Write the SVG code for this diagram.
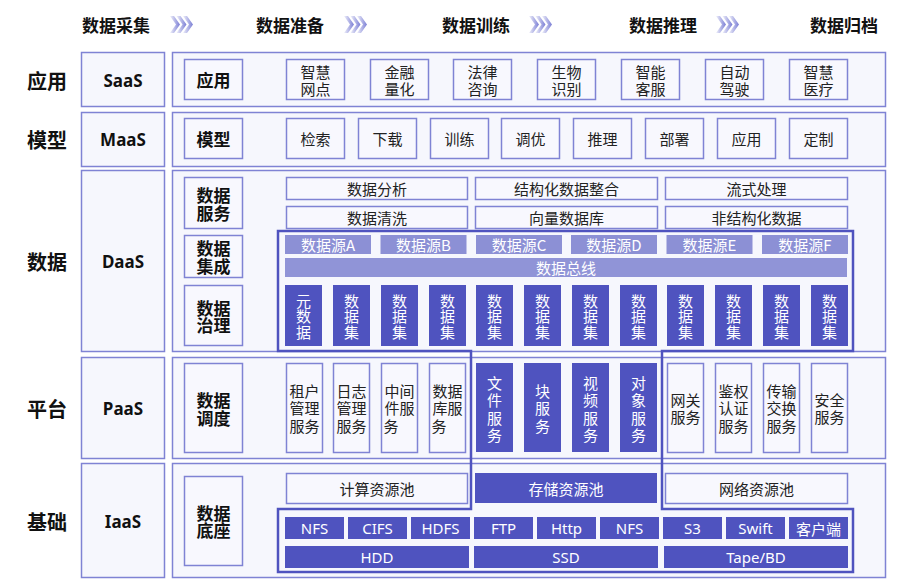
<svg xmlns="http://www.w3.org/2000/svg" xmlns:xlink="http://www.w3.org/1999/xlink" width="919" height="588" viewBox="0 0 919 588">
<style>
.bg{fill:#ffffff}
.layer{fill:#f6f7fd;stroke:#7f83d4;stroke-width:1.5}
.ob{fill:#f8f8fe;stroke:#7f83d4;stroke-width:1.5}
.fb{fill:#4f53bf}
.lb{fill:#8c90d5}
.bus{fill:#9094d7}
.t{font-family:"Noto Sans CJK SC","Noto Sans",sans-serif;font-size:15px;fill:#222;text-anchor:middle;dominant-baseline:central}
.w{fill:#ffffff}
.b{font-weight:bold;font-size:17px;fill:#111}
.hd{font-weight:bold;font-size:17px;fill:#111}
.side{font-weight:bold;font-size:20px;fill:#111}
.lay{font-weight:bold;font-size:17px;fill:#111;font-family:"Noto Sans","Noto Sans CJK SC",sans-serif}
.lat{font-family:"Noto Sans","Noto Sans CJK SC",sans-serif}
.frame{fill:none;stroke:#4f53bf;stroke-width:2.5}
</style>
<defs>
<linearGradient id="cg" x1="0" y1="0" x2="1" y2="0">
<stop offset="0" stop-color="#6b6fd0" stop-opacity="0.1"/>
<stop offset="1" stop-color="#6b6fd0" stop-opacity="0.9"/>
</linearGradient>
<g id="chev">
<polygon points="0,0 4,0 10,8.5 4,17 0,17 6,8.5" fill="url(#cg)"/>
<polygon points="6.5,0 10.5,0 16.5,8.5 10.5,17 6.5,17 12.5,8.5" fill="url(#cg)"/>
<polygon points="13,0 17,0 23,8.5 17,17 13,17 19,8.5" fill="url(#cg)"/>
</g>
</defs>
<rect class="bg" x="0" y="0" width="919" height="588"/>

<g id="header">
<text class="t hd" x="116" y="24.5">数据采集</text>
<text class="t hd" x="290" y="24.5">数据准备</text>
<text class="t hd" x="476" y="24.5">数据训练</text>
<text class="t hd" x="663" y="24.5">数据推理</text>
<text class="t hd" x="844" y="24.5">数据归档</text>
<use xlink:href="#chev" x="170" y="16"/>
<use xlink:href="#chev" x="344" y="16"/>
<use xlink:href="#chev" x="529" y="16"/>
<use xlink:href="#chev" x="716" y="16"/>
</g>

<g id="side-labels">
<text class="t side" x="47" y="80">应用</text>
<text class="t side" x="47" y="139">模型</text>
<text class="t side" x="47" y="261">数据</text>
<text class="t side" x="47" y="408">平台</text>
<text class="t side" x="47" y="521">基础</text>
</g>

<g id="layers">
<rect class="layer" x="81.5" y="52.5" width="83" height="54"/>
<rect class="layer" x="172.5" y="52.5" width="713" height="54"/>
<text class="t lay" x="123" y="80">SaaS</text>
<rect class="layer" x="81.5" y="112.5" width="83" height="54"/>
<rect class="layer" x="172.5" y="112.5" width="713" height="54"/>
<text class="t lay" x="123" y="139">MaaS</text>
<rect class="layer" x="81.5" y="170.5" width="83" height="181"/>
<rect class="layer" x="172.5" y="170.5" width="713" height="181"/>
<text class="t lay" x="123" y="261">DaaS</text>
<rect class="layer" x="81.5" y="357.5" width="83" height="101"/>
<rect class="layer" x="172.5" y="357.5" width="713" height="101"/>
<text class="t lay" x="123" y="408">PaaS</text>
<rect class="layer" x="81.5" y="463.5" width="83" height="114"/>
<rect class="layer" x="172.5" y="463.5" width="713" height="114"/>
<text class="t lay" x="123" y="521">IaaS</text>
</g>

<g id="saas">
<rect class="ob" x="184.5" y="59.5" width="58" height="40"/>
<text class="t b" x="213.5" y="79.5">应用</text>
<rect class="ob" x="286.5" y="59.5" width="58" height="40"/><text class="t" x="315.5" y="71">智慧</text><text class="t" x="315.5" y="88.5">网点</text>
<rect class="ob" x="370.5" y="59.5" width="58" height="40"/><text class="t" x="399.5" y="71">金融</text><text class="t" x="399.5" y="88.5">量化</text>
<rect class="ob" x="453.5" y="59.5" width="58" height="40"/><text class="t" x="482.5" y="71">法律</text><text class="t" x="482.5" y="88.5">咨询</text>
<rect class="ob" x="537.5" y="59.5" width="58" height="40"/><text class="t" x="566.5" y="71">生物</text><text class="t" x="566.5" y="88.5">识别</text>
<rect class="ob" x="621.5" y="59.5" width="58" height="40"/><text class="t" x="650.5" y="71">智能</text><text class="t" x="650.5" y="88.5">客服</text>
<rect class="ob" x="705.5" y="59.5" width="58" height="40"/><text class="t" x="734.5" y="71">自动</text><text class="t" x="734.5" y="88.5">驾驶</text>
<rect class="ob" x="789.5" y="59.5" width="58" height="40"/><text class="t" x="818.5" y="71">智慧</text><text class="t" x="818.5" y="88.5">医疗</text>
</g>

<g id="maas">
<rect class="ob" x="184.5" y="118.5" width="58" height="40"/>
<text class="t b" x="213.5" y="138.5">模型</text>
<rect class="ob" x="286.5" y="118.5" width="58" height="40"/><text class="t" x="315.5" y="138.5">检索</text>
<rect class="ob" x="358.5" y="118.5" width="58" height="40"/><text class="t" x="387.5" y="138.5">下载</text>
<rect class="ob" x="430.5" y="118.5" width="58" height="40"/><text class="t" x="459.5" y="138.5">训练</text>
<rect class="ob" x="501.5" y="118.5" width="58" height="40"/><text class="t" x="530.5" y="138.5">调优</text>
<rect class="ob" x="573.5" y="118.5" width="58" height="40"/><text class="t" x="602.5" y="138.5">推理</text>
<rect class="ob" x="645.5" y="118.5" width="58" height="40"/><text class="t" x="674.5" y="138.5">部署</text>
<rect class="ob" x="717.5" y="118.5" width="58" height="40"/><text class="t" x="746.5" y="138.5">应用</text>
<rect class="ob" x="789.5" y="118.5" width="58" height="40"/><text class="t" x="818.5" y="138.5">定制</text>
</g>

<g id="daas">
<rect class="ob" x="184.5" y="177.5" width="58" height="51"/>
<text class="t b" x="213.5" y="194">数据</text><text class="t b" x="213.5" y="212">服务</text>
<rect class="ob" x="184.5" y="235.5" width="58" height="42"/>
<text class="t b" x="213.5" y="247.5">数据</text><text class="t b" x="213.5" y="265">集成</text>
<rect class="ob" x="184.5" y="285.5" width="58" height="60"/>
<text class="t b" x="213.5" y="307">数据</text><text class="t b" x="213.5" y="324.5">治理</text>

<rect class="ob" x="286.5" y="177.5" width="181" height="22"/><text class="t" x="377" y="188.5">数据分析</text>
<rect class="ob" x="475.5" y="177.5" width="182" height="22"/><text class="t" x="566.5" y="188.5">结构化数据整合</text>
<rect class="ob" x="665.5" y="177.5" width="182" height="22"/><text class="t" x="756.5" y="188.5">流式处理</text>
<rect class="ob" x="286.5" y="206.5" width="181" height="22"/><text class="t" x="377" y="217.5">数据清洗</text>
<rect class="ob" x="475.5" y="206.5" width="182" height="22"/><text class="t" x="566.5" y="217.5">向量数据库</text>
<rect class="ob" x="665.5" y="206.5" width="182" height="22"/><text class="t" x="756.5" y="217.5">非结构化数据</text>

<rect class="lb" x="285" y="235" width="86" height="19"/><text class="t w" x="328" y="244.5">数据源A</text>
<rect class="lb" x="380.5" y="235" width="86" height="19"/><text class="t w" x="423.5" y="244.5">数据源B</text>
<rect class="lb" x="476" y="235" width="86" height="19"/><text class="t w" x="519" y="244.5">数据源C</text>
<rect class="lb" x="571" y="235" width="86" height="19"/><text class="t w" x="614" y="244.5">数据源D</text>
<rect class="lb" x="666.5" y="235" width="86" height="19"/><text class="t w" x="709.5" y="244.5">数据源E</text>
<rect class="lb" x="762" y="235" width="86" height="19"/><text class="t w" x="805" y="244.5">数据源F</text>
<rect class="bus" x="285" y="258" width="562" height="19"/><text class="t w" x="566" y="267.5">数据总线</text>

<g>
<rect class="fb" x="285" y="285" width="37" height="61"/><text class="t w" x="303.5" y="300">元</text><text class="t w" x="303.5" y="315.5">数</text><text class="t w" x="303.5" y="331">据</text>
<rect class="fb" x="333" y="285" width="37" height="61"/><text class="t w" x="351.5" y="300">数</text><text class="t w" x="351.5" y="315.5">据</text><text class="t w" x="351.5" y="331">集</text>
<rect class="fb" x="381" y="285" width="37" height="61"/><text class="t w" x="399.5" y="300">数</text><text class="t w" x="399.5" y="315.5">据</text><text class="t w" x="399.5" y="331">集</text>
<rect class="fb" x="429" y="285" width="37" height="61"/><text class="t w" x="447.5" y="300">数</text><text class="t w" x="447.5" y="315.5">据</text><text class="t w" x="447.5" y="331">集</text>
<rect class="fb" x="476" y="285" width="37" height="61"/><text class="t w" x="494.5" y="300">数</text><text class="t w" x="494.5" y="315.5">据</text><text class="t w" x="494.5" y="331">集</text>
<rect class="fb" x="524" y="285" width="37" height="61"/><text class="t w" x="542.5" y="300">数</text><text class="t w" x="542.5" y="315.5">据</text><text class="t w" x="542.5" y="331">集</text>
<rect class="fb" x="572" y="285" width="37" height="61"/><text class="t w" x="590.5" y="300">数</text><text class="t w" x="590.5" y="315.5">据</text><text class="t w" x="590.5" y="331">集</text>
<rect class="fb" x="620" y="285" width="37" height="61"/><text class="t w" x="638.5" y="300">数</text><text class="t w" x="638.5" y="315.5">据</text><text class="t w" x="638.5" y="331">集</text>
<rect class="fb" x="667" y="285" width="37" height="61"/><text class="t w" x="685.5" y="300">数</text><text class="t w" x="685.5" y="315.5">据</text><text class="t w" x="685.5" y="331">集</text>
<rect class="fb" x="715" y="285" width="37" height="61"/><text class="t w" x="733.5" y="300">数</text><text class="t w" x="733.5" y="315.5">据</text><text class="t w" x="733.5" y="331">集</text>
<rect class="fb" x="763" y="285" width="37" height="61"/><text class="t w" x="781.5" y="300">数</text><text class="t w" x="781.5" y="315.5">据</text><text class="t w" x="781.5" y="331">集</text>
<rect class="fb" x="811" y="285" width="37" height="61"/><text class="t w" x="829.5" y="300">数</text><text class="t w" x="829.5" y="315.5">据</text><text class="t w" x="829.5" y="331">集</text>
</g>
</g>

<g id="paas">
<rect class="ob" x="184.5" y="363.5" width="58" height="89"/>
<text class="t b" x="213.5" y="399.5">数据</text><text class="t b" x="213.5" y="417">调度</text>
<rect class="ob" x="286.5" y="363.5" width="36" height="89"/><text class="t" x="304.5" y="390">租户</text><text class="t" x="304.5" y="407.5">管理</text><text class="t" x="304.5" y="425">服务</text>
<rect class="ob" x="333.5" y="363.5" width="36" height="89"/><text class="t" x="351.5" y="390">日志</text><text class="t" x="351.5" y="407.5">管理</text><text class="t" x="351.5" y="425">服务</text>
<rect class="ob" x="381.5" y="363.5" width="36" height="89"/><text class="t" x="399.5" y="390">中间</text><text class="t" x="399.5" y="407.5">件服</text><text class="t" x="391" y="425">务</text>
<rect class="ob" x="429.5" y="363.5" width="36" height="89"/><text class="t" x="447.5" y="390">数据</text><text class="t" x="447.5" y="407.5">库服</text><text class="t" x="439" y="425">务</text>
<rect class="fb" x="476" y="363" width="37" height="89"/><text class="t w" x="494.5" y="382">文</text><text class="t w" x="494.5" y="399.5">件</text><text class="t w" x="494.5" y="417">服</text><text class="t w" x="494.5" y="434.5">务</text>
<rect class="fb" x="524" y="363" width="37" height="89"/><text class="t w" x="542.5" y="390">块</text><text class="t w" x="542.5" y="407.5">服</text><text class="t w" x="542.5" y="425">务</text>
<rect class="fb" x="572" y="363" width="37" height="89"/><text class="t w" x="590.5" y="382">视</text><text class="t w" x="590.5" y="399.5">频</text><text class="t w" x="590.5" y="417">服</text><text class="t w" x="590.5" y="434.5">务</text>
<rect class="fb" x="620" y="363" width="37" height="89"/><text class="t w" x="638.5" y="382">对</text><text class="t w" x="638.5" y="399.5">象</text><text class="t w" x="638.5" y="417">服</text><text class="t w" x="638.5" y="434.5">务</text>
<rect class="ob" x="667.5" y="363.5" width="36" height="89"/><text class="t" x="685.5" y="399">网关</text><text class="t" x="685.5" y="416.5">服务</text>
<rect class="ob" x="715.5" y="363.5" width="36" height="89"/><text class="t" x="733.5" y="390">鉴权</text><text class="t" x="733.5" y="407.5">认证</text><text class="t" x="733.5" y="425">服务</text>
<rect class="ob" x="763.5" y="363.5" width="36" height="89"/><text class="t" x="781.5" y="390">传输</text><text class="t" x="781.5" y="407.5">交换</text><text class="t" x="781.5" y="425">服务</text>
<rect class="ob" x="811.5" y="363.5" width="36" height="89"/><text class="t" x="829.5" y="399">安全</text><text class="t" x="829.5" y="416.5">服务</text>
</g>

<g id="iaas">
<rect class="ob" x="184.5" y="476.5" width="58" height="89"/>
<text class="t b" x="213.5" y="512">数据</text><text class="t b" x="213.5" y="529.5">底座</text>
<rect class="ob" x="286.5" y="473.5" width="181" height="30"/><text class="t" x="377" y="488.5">计算资源池</text>
<rect class="fb" x="475" y="473" width="182" height="30"/><text class="t w" x="566" y="488.5">存储资源池</text>
<rect class="ob" x="665.5" y="473.5" width="182" height="30"/><text class="t" x="756.5" y="488.5">网络资源池</text>

<rect class="fb" x="285" y="517" width="59" height="22"/><text class="t w lat" x="314.5" y="528">NFS</text>
<rect class="fb" x="348" y="517" width="59" height="22"/><text class="t w lat" x="377.5" y="528">CIFS</text>
<rect class="fb" x="411" y="517" width="59" height="22"/><text class="t w lat" x="440.5" y="528">HDFS</text>
<rect class="fb" x="474" y="517" width="59" height="22"/><text class="t w lat" x="503.5" y="528">FTP</text>
<rect class="fb" x="537" y="517" width="59" height="22"/><text class="t w lat" x="566.5" y="528">Http</text>
<rect class="fb" x="600" y="517" width="59" height="22"/><text class="t w lat" x="629.5" y="528">NFS</text>
<rect class="fb" x="663" y="517" width="59" height="22"/><text class="t w lat" x="692.5" y="528">S3</text>
<rect class="fb" x="726" y="517" width="59" height="22"/><text class="t w lat" x="755.5" y="528">Swift</text>
<rect class="fb" x="789" y="517" width="59" height="22"/><text class="t w" x="818.5" y="528">客户端</text>

<rect class="fb" x="285" y="546" width="184" height="22"/><text class="t w lat" x="377" y="557">HDD</text>
<rect class="fb" x="474" y="546" width="184" height="22"/><text class="t w lat" x="566" y="557">SSD</text>
<rect class="fb" x="664" y="546" width="184" height="22"/><text class="t w lat" x="756" y="557">Tape/BD</text>
</g>

<g id="connectors">
<polygon class="frame" points="278,231 853,231 853,351 662,351 662,509 853,509 853,572 278,572 278,509 471,509 471,351 278,351"/>
</g>
</svg>
